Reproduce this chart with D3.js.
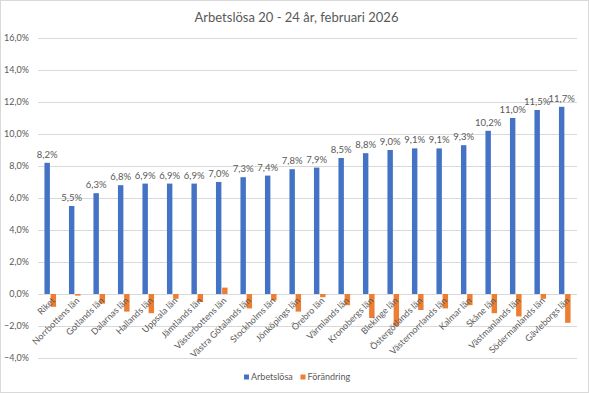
<!DOCTYPE html>
<html>
<head>
<meta charset="utf-8">
<script src="https://cdn.jsdelivr.net/npm/d3@7"></script>
<style>
  body { margin: 0; background: #fff; }
  svg { font-family: Lato, "Open Sans", sans-serif; }
</style>
</head>
<body>
<svg width="589" height="393"></svg>
<script>
// lan och varden
var categories = ["Riket", "Norrbottens län", "Gotlands län", "Dalarnas län", "Hallands län", "Uppsala län",
    "Jämtlands län", "Västerbottens län", "Västra Götalands län", "Stockholms län", "Jönköpings län",
    "Örebro län", "Värmlands län", "Kronobergs län", "Blekinge län", "Östergötlands län",
    "Västernorrlands län", "Kalmar län", "Skåne län", "Västmanlands län", "Södermanlands län", "Gävleborgs län"];
var arbetslosa = [8.2, 5.5, 6.3, 6.8, 6.9, 6.9, 6.9, 7.0, 7.3, 7.4, 7.8, 7.9, 8.5, 8.8, 9.0, 9.1, 9.1, 9.3, 10.2, 11.0, 11.5, 11.7];
var forandring = [-0.8, -0.1, -0.6, -1.1, -1.2, -0.3, -0.5, 0.4, -0.9, -0.4, -1.1, -0.2, -0.7, -1.5, -2.0, -1.0, -0.9, -0.7, -1.2, -1.4, -0.3, -1.8];
var seriesNames = ["Arbetslösa", "Förändring"];
var yTicks = [-4, -2, 0, 2, 4, 6, 8, 10, 12, 14, 16];

var colors = {"Arbetslösa": "#4472c4", "Förändring": "#ed7d31"};
var fmt = function (v) { return d3.format(".1f")(v).replace(".", ",") + "%"; };

var svg = d3.select("svg"),
    width = +svg.attr("width"),
    height = +svg.attr("height");

var rows = categories.map(function (c, i) {
    return {name: c, values: [{key: "Arbetslösa", v: arbetslosa[i]}, {key: "Förändring", v: forandring[i]}]};
});

// ram
svg.append("rect")
    .attr("x", 0.5).attr("y", 0.5)
    .attr("width", width - 1).attr("height", height - 1)
    .attr("fill", "#fff").attr("stroke", "#d9d9d9");

svg.append("text")
    .attr("x", width / 2 + 2).attr("y", 22)
    .attr("text-anchor", "middle")
    .attr("fill", "#595959")
    .style("font-size", "13px")
    .text("Arbetslösa 20 - 24 år, februari 2026");

var x = d3.scaleBand().domain(categories).range([38, 577]).padding(0);
var x1 = d3.scaleBand().domain(seriesNames).range([-5.8, 5.8]).paddingInner(0.12);
var y = d3.scaleLinear().domain([-4, 16]).range([358, 38]);

var g = svg.append("g");

// rutnat
g.append("g")
    .attr("class", "y axis")
    .attr("transform", "translate(38,0)")
    .call(d3.axisLeft(y).tickValues(yTicks).tickFormat(fmt).tickSizeInner(-(577 - 38)).tickSizeOuter(0).tickPadding(9))
    .call(function (a) {
        a.select(".domain").remove();
        a.selectAll("line").attr("stroke", "#d9d9d9");
        a.selectAll("text").attr("fill", "#595959").style("font-size", "9px").style("font-family", "Lato, sans-serif");
    });

var grp = g.selectAll(".grp")
    .data(rows)
    .enter().append("g")
    .attr("class", "grp")
    .attr("transform", function (d) { return "translate(" + (x(d.name) + x.bandwidth() / 2) + ",0)"; });

grp.selectAll("rect")
    .data(function (d) { return d.values; })
    .enter().append("rect")
    .attr("x", function (d) { return x1(d.key); })
    .attr("width", x1.bandwidth())
    .attr("y", function (d) { return y(Math.max(0, d.v)); })
    .attr("height", function (d) { return Math.abs(y(d.v) - y(0)); })
    .attr("fill", function (d) { return colors[d.key]; });

grp.append("text")
    .attr("x", x1("Arbetslösa") + x1.bandwidth() / 2)
    .attr("y", function (d) { return y(d.values[0].v) - 5; })
    .attr("text-anchor", "middle")
    .attr("fill", "#595959")
    .style("font-size", "9.5px")
    .text(function (d) { return fmt(d.values[0].v); });

// kategorier
g.append("g")
    .selectAll("text")
    .data(categories)
    .enter().append("text")
    .attr("transform", function (d) { return "translate(" + (x(d) + x.bandwidth() / 2 + 3) + ",299) rotate(-45)"; })
    .attr("text-anchor", "end")
    .attr("dy", "0.35em")
    .attr("fill", "#595959")
    .style("font-size", "9px")
    .text(function (d) { return d; });

// legend
var leg = svg.append("g").attr("transform", "translate(244,377)");
var li = leg.selectAll("g")
    .data(seriesNames)
    .enter().append("g")
    .attr("transform", function (d, i) { return "translate(" + (i * 56.5) + ",0)"; });
li.append("rect").attr("x", 0).attr("y", -2.5).attr("width", 5).attr("height", 5)
    .attr("fill", function (d) { return colors[d]; });
li.append("text").attr("x", 7).attr("y", 0).attr("dy", "0.35em")
    .attr("fill", "#595959").style("font-size", "9px")
    .text(function (d) { return d; });
</script>
</body>
</html>
